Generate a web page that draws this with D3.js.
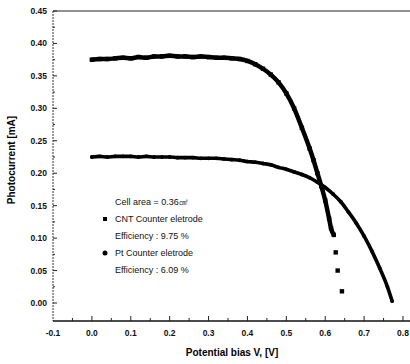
<!DOCTYPE html>
<html>
<head>
<meta charset="utf-8">
<script src="https://cdn.jsdelivr.net/npm/d3@7"></script>
<style>
  body { margin: 0; background: #fff; }
  svg { display: block; font-family: "Liberation Sans", Arial, sans-serif; }
</style>
</head>
<body>
<div id="chart"></div>
<script>
// CNT counter electrode (squares)
const cntV = [0, 0.02, 0.04, 0.06, 0.08, 0.10, 0.12, 0.14, 0.16, 0.18, 0.20, 0.22, 0.24, 0.26, 0.28, 0.30,
  0.32, 0.34, 0.36, 0.38, 0.40, 0.42, 0.44, 0.46, 0.48, 0.50, 0.52, 0.54, 0.56, 0.57, 0.58, 0.59, 0.60,
  0.61, 0.615, 0.622, 0.627, 0.632, 0.643];
const cntI = [0.375, 0.376, 0.376, 0.377, 0.378, 0.377, 0.379, 0.378, 0.380, 0.380, 0.381, 0.380, 0.380, 0.379, 0.380, 0.379,
  0.378, 0.378, 0.377, 0.376, 0.373, 0.368, 0.361, 0.352, 0.340, 0.323, 0.300, 0.270, 0.238, 0.220, 0.200, 0.180, 0.158,
  0.130, 0.115, 0.105, 0.078, 0.050, 0.018];

// Pt counter electrode (circles)
const ptV = [0, 0.02, 0.04, 0.06, 0.08, 0.10, 0.12, 0.14, 0.16, 0.18, 0.20, 0.22, 0.24, 0.26, 0.28, 0.30,
  0.32, 0.34, 0.36, 0.38, 0.40, 0.42, 0.44, 0.46, 0.48, 0.50, 0.52, 0.54, 0.56, 0.58, 0.60, 0.62, 0.64,
  0.66, 0.68, 0.70, 0.72, 0.74, 0.76, 0.772];
const ptI = [0.225, 0.226, 0.225, 0.226, 0.226, 0.226, 0.225, 0.226, 0.225, 0.225, 0.225, 0.224, 0.224, 0.224, 0.223, 0.223,
  0.223, 0.222, 0.221, 0.220, 0.218, 0.217, 0.215, 0.213, 0.209, 0.206, 0.202, 0.198, 0.193, 0.186, 0.178, 0.168, 0.156,
  0.140, 0.123, 0.103, 0.080, 0.054, 0.025, 0.003];

const xTicks = [-0.1, 0, 0.1, 0.2, 0.3, 0.4, 0.5, 0.6, 0.7, 0.8];
const xTickLabels = ["-0.1", "0.0", "0.1", "0.2", "0.3", "0.4", "0.5", "0.6", "0.7", "0.8"];
const yTicks = [0, 0.05, 0.10, 0.15, 0.20, 0.25, 0.30, 0.35, 0.40, 0.45];
const yTickLabels = ["0.00", "0.05", "0.10", "0.15", "0.20", "0.25", "0.30", "0.35", "0.40", "0.45"];

const legendLines = ["Cell area = 0.36㎠", "CNT Counter eletrode", "Efficiency : 9.75 %", "Pt  Counter eletrode", "Efficiency : 6.09 %"];

const W = 410, H = 364;
const svg = d3.select("#chart").append("svg").attr("width", W).attr("height", H);

const x = d3.scaleLinear().domain([-0.1, 0.8]).range([53, 403]);
const y = d3.scaleLinear().domain([0, 0.45]).range([303, 11]);
const xMax = 410, yBottom = 321;

// frame
svg.append("line").attr("x1", 53).attr("x2", xMax).attr("y1", 11).attr("y2", 11)
  .attr("stroke", "#222").attr("stroke-width", 1.2);
svg.append("line").attr("x1", 53).attr("x2", xMax).attr("y1", yBottom).attr("y2", yBottom)
  .attr("stroke", "#111").attr("stroke-width", 1.4);
svg.append("line").attr("x1", 53).attr("x2", 53).attr("y1", 11).attr("y2", yBottom)
  .attr("stroke", "#333").attr("stroke-width", 1).attr("stroke-dasharray", "2,1");

// y ticks (inside)
const yMinor = d3.range(0, 0.451, 0.025);
svg.append("g").selectAll("line").data(yMinor).join("line")
  .attr("x1", 53).attr("x2", (d, i) => i % 2 === 0 ? 57 : 55)
  .attr("y1", d => y(d)).attr("y2", d => y(d))
  .attr("stroke", "#222");
svg.append("g").selectAll("text").data(yTicks).join("text")
  .attr("x", 47).attr("y", d => y(d) + 3)
  .attr("text-anchor", "end")
  .style("font-size", "8.5px").style("font-weight", "bold").style("fill", "#111")
  .text((d, i) => yTickLabels[i]);

// x ticks (inside)
const xMinor = d3.range(-0.05, 0.81, 0.05);
svg.append("g").selectAll("line").data(xMinor).join("line")
  .attr("x1", d => x(d)).attr("x2", d => x(d))
  .attr("y1", yBottom).attr("y2", (d, i) => i % 2 === 1 ? yBottom - 5 : yBottom - 3)
  .attr("stroke", "#222");
svg.append("g").selectAll("text").data(xTicks).join("text")
  .attr("x", d => x(d)).attr("y", 336)
  .attr("text-anchor", "middle")
  .style("font-size", "8.5px").style("font-weight", "bold").style("fill", "#111")
  .text((d, i) => xTickLabels[i]);

// axis titles
svg.append("text").attr("x", 232).attr("y", 356).attr("text-anchor", "middle")
  .style("font-size", "10px").style("font-weight", "bold")
  .text("Potential bias V, [V]");
svg.append("text").attr("transform", "rotate(-90)").attr("x", -160).attr("y", 15)
  .attr("text-anchor", "middle")
  .style("font-size", "10px").style("font-weight", "bold")
  .text("Photocurrent [mA]");

// series: dense part drawn as a thick run, points below lineMin left as lone markers
function drawSeries(vs, is, shape, width, lineMin) {
  const pts = vs.map((v, i) => [x(v), y(is[i]), is[i]]);
  const g = svg.append("g");
  const run = pts.filter(p => p[2] >= lineMin);
  g.append("path").attr("d", d3.line().curve(d3.curveMonotoneX)(run))
    .attr("fill", "none").attr("stroke", "#000").attr("stroke-width", width)
    .attr("stroke-linecap", "round").attr("stroke-linejoin", "round");
  if (shape === "square") {
    g.selectAll("rect").data(pts).join("rect")
      .attr("x", d => d[0] - 2.2).attr("y", d => d[1] - 2.2)
      .attr("width", 4.4).attr("height", 4.4).attr("fill", "#000");
  } else {
    g.selectAll("circle").data(pts).join("circle")
      .attr("cx", d => d[0]).attr("cy", d => d[1]).attr("r", 1.9).attr("fill", "#000");
  }
}
drawSeries(cntV, cntI, "square", 4.5, 0.1);
drawSeries(ptV, ptI, "circle", 3.6, 0);

// legend
const lg = svg.append("g");
const ly = [202, 219, 236, 253, 270];
lg.selectAll("text").data(legendLines).join("text")
  .attr("x", 115).attr("y", (d, i) => ly[i] + 3)
  .style("font-size", "9px").style("fill", "#111")
  .text(d => d);
lg.append("rect").attr("x", 103).attr("y", ly[1] - 2).attr("width", 4).attr("height", 4).attr("fill", "#000");
lg.append("circle").attr("cx", 105).attr("cy", ly[3]).attr("r", 2.5).attr("fill", "#000");
</script>
</body>
</html>
